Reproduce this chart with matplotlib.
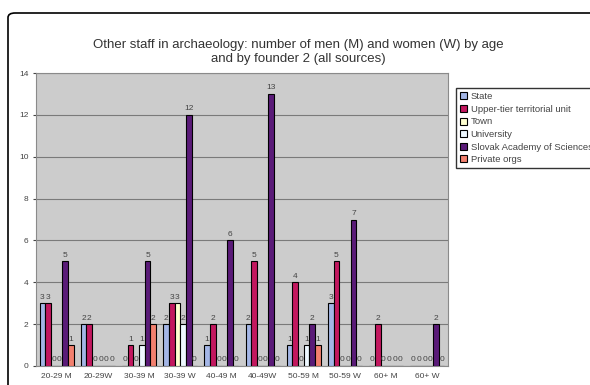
import matplotlib.pyplot as plt
import numpy as np
from matplotlib.patches import FancyBboxPatch

plt.rcParams["font.family"] = ["Liberation Sans", "DejaVu Sans"]

categories = ["20-29 M", "20-29W", "30-39 M", "30-39 W", "40-49 M",
              "40-49W", "50-59 M", "50-59 W", "60+ M", "60+ W"]
state = [3, 2, 0, 2, 1, 2, 1, 3, 0, 0]
upper_tier = [3, 2, 1, 3, 2, 5, 4, 5, 2, 0]
town = [0, 0, 0, 3, 0, 0, 0, 0, 0, 0]
university = [0, 0, 1, 2, 0, 0, 1, 0, 0, 0]
academy = [5, 0, 5, 12, 6, 13, 2, 7, 0, 2]
private = [1, 0, 2, 0, 0, 0, 1, 0, 0, 0]

series = [
    ("State", state, "#a4b6e6"),
    ("Upper-tier territorial unit", upper_tier, "#c2185f"),
    ("Town", town, "#ffffd0"),
    ("University", university, "#eef8ff"),
    ("Slovak Academy of Sciences", academy, "#5a1b78"),
    ("Private orgs", private, "#f2806e"),
]

fig = plt.figure(figsize=(5.9, 3.85), dpi=100)
fig.patch.set_facecolor("white")

# rounded outer frame of the chart area
frame = FancyBboxPatch((8 / 590, -0.05), 1.0, (385 - 13) / 385 + 0.05,
                       boxstyle="round,pad=0,rounding_size=0.012",
                       transform=fig.transFigure, facecolor="none",
                       edgecolor="black", linewidth=1.2, clip_on=False)
fig.patches.append(frame)

ax = fig.add_axes([36 / 590, 1 - 366 / 385, 412 / 590, 293 / 385])
ax.set_facecolor("#cccccc")

x = np.arange(len(categories))
width = 0.138
for i, (name, vals, color) in enumerate(series):
    pos = x + (i - 2.5) * width
    ax.bar(pos, vals, width, color=color, edgecolor="black",
           linewidth=0.8, label=name, zorder=3)
    for xp, v in zip(pos, vals):
        ax.text(xp, v + 0.12, str(v), ha="center", va="bottom",
                fontsize=6, color="#444444", zorder=4)

ax.set_xlim(-0.5, len(categories) - 0.5)
ax.set_ylim(0, 14)
ax.set_yticks(range(0, 15, 2))
ax.set_xticks(x)
ax.set_xticklabels(categories)
ax.tick_params(axis="both", labelsize=6, length=2, colors="#444444")
ax.tick_params(axis="x", length=0, pad=5)
ax.yaxis.grid(True, color="#7a7a7a", linewidth=0.8, zorder=0)
for side in ["top", "right", "bottom", "left"]:
    ax.spines[side].set_color("#8a8a8a")
    ax.spines[side].set_linewidth(0.8)

fig.text(0.505, 1 - 45 / 385,
         "Other staff in archaeology: number of men (M) and women (W) by age",
         ha="center", va="center", fontsize=9.5, color="#333333")
fig.text(0.505, 1 - 59 / 385, "and by founder 2 (all sources)",
         ha="center", va="center", fontsize=9.5, color="#333333")

leg = fig.legend(loc="upper left", bbox_to_anchor=(456 / 590, 1 - 88 / 385),
                 fontsize=6.8, frameon=True, fancybox=False,
                 handlelength=0.75, handleheight=0.75, handletextpad=0.35,
                 labelspacing=0.38, borderpad=0.45, borderaxespad=0)
leg.get_frame().set_edgecolor("black")
leg.get_frame().set_linewidth(1.0)
for t in leg.get_texts():
    t.set_color("#444444")

fig.savefig("out.png", dpi=100)
